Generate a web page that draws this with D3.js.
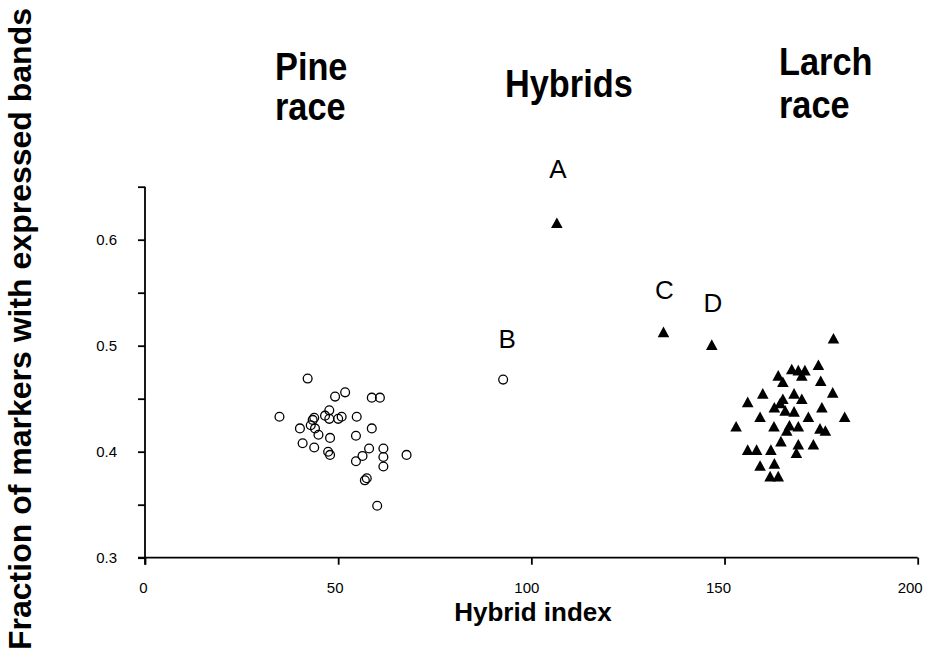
<!DOCTYPE html>
<html>
<head>
<meta charset="utf-8">
<script src="https://cdn.jsdelivr.net/npm/d3@7"></script>
<style>
  body { margin: 0; background: #fff; }
  svg { display: block; }
  .axis path, .axis line { stroke: #000; stroke-width: 1.8; }
  .axis text { font-family: "Liberation Sans", Arial, sans-serif; font-size: 15px; fill: #000; }
</style>
</head>
<body>
<div id="chart"></div>
<script>
// Pine race individuals (hybrid index, fraction of markers)
const pineX = [42.1, 49.2, 51.8, 34.8, 47.7, 46.6, 47.7, 50.0, 50.9, 43.8, 43.4, 42.9, 40.1, 44.0, 44.9,
               47.9, 40.8, 43.8, 47.4, 47.9, 58.7, 60.8, 54.8, 58.7, 54.6, 58.0, 61.7, 61.7, 61.7, 67.7,
               56.3, 54.6, 57.4, 56.9, 60.1];
const pineY = [0.469, 0.452, 0.456, 0.433, 0.439, 0.434, 0.431, 0.431, 0.433, 0.432, 0.430, 0.425, 0.422, 0.422, 0.416,
               0.413, 0.408, 0.404, 0.400, 0.397, 0.451, 0.451, 0.433, 0.422, 0.415, 0.403, 0.403, 0.395, 0.386, 0.397,
               0.396, 0.391, 0.375, 0.373, 0.349];

// Larch race individuals
const larchX = [178.2, 174.3, 167.4, 169.1, 170.8, 170.0, 163.9, 165.1, 174.9, 178.0, 159.9, 168.0, 170.0, 156.0,
                165.1, 164.4, 162.9, 175.2, 165.7, 168.0, 159.2, 171.7, 181.1, 153.0, 162.8, 166.8, 169.1, 166.1,
                174.7, 176.1, 164.6, 169.1, 173.0, 156.0, 158.3, 162.0, 168.6, 159.2, 162.9, 161.8, 163.9];
const larchY = [0.507, 0.482, 0.478, 0.477, 0.477, 0.472, 0.472, 0.466, 0.467, 0.456, 0.455, 0.455, 0.450, 0.447,
                0.450, 0.446, 0.442, 0.442, 0.439, 0.438, 0.433, 0.433, 0.433, 0.424, 0.424, 0.425, 0.424, 0.420,
                0.422, 0.420, 0.410, 0.407, 0.407, 0.402, 0.402, 0.402, 0.399, 0.387, 0.389, 0.377, 0.377];

// Hybrids, labelled A-D
const hybridLabels = ["A", "B", "C", "D"];
const hybridX = [106.6, 92.7, 134.2, 146.7];
const hybridY = [0.616, 0.468, 0.513, 0.501];
const hybridType = ["larch", "pine", "larch", "larch"];

const xTicks = [0, 50, 100, 150, 200];
const yTicks = [0.3, 0.35, 0.4, 0.45, 0.5, 0.55, 0.6, 0.65];

const width = 925, height = 656;

const svg = d3.select("#chart").append("svg")
    .attr("width", width)
    .attr("height", height);

const x = d3.scaleLinear().domain([0, 200]).range([145, 917.7]);
const y = d3.scaleLinear().domain([0.3, 0.65]).range([557.7, 186.7]);

// Axes
svg.append("g")
    .attr("class", "axis")
    .attr("transform", `translate(0,${y(0.3)})`)
    .call(d3.axisBottom(x).tickValues(xTicks).tickSize(7).tickSizeOuter(0).tickPadding(18))
    .call(g => g.select(".domain").attr("d", `M${x(0) - 7},0H${x(200)}`))
    .call(g => g.selectAll(".tick text").attr("dx", d => -2 - 0.03 * d));

svg.append("g")
    .attr("class", "axis")
    .attr("transform", `translate(${x(0)},0)`)
    .call(d3.axisLeft(y).tickValues(yTicks).tickSize(7).tickSizeOuter(0).tickPadding(21)
        .tickFormat(d => Math.round(d * 100) % 10 === 0 ? d3.format(".1f")(d) : ""))
    .call(g => g.select(".domain").attr("d", `M0,${y(0.65)}V${y(0.3) + 7}`));

// Triangle drawn around its box centre
const tri = "M0,-5.3L5.8,5.3L-5.8,5.3Z";

const pine = pineX.map((d, i) => ({x: d, y: pineY[i]}));
const larch = larchX.map((d, i) => ({x: d, y: larchY[i]}));
const hybrids = hybridX.map((d, i) => ({x: d, y: hybridY[i], label: hybridLabels[i], type: hybridType[i]}));

svg.append("g").selectAll("circle")
    .data(pine.concat(hybrids.filter(d => d.type === "pine")))
    .join("circle")
    .attr("cx", d => x(d.x))
    .attr("cy", d => y(d.y))
    .attr("r", 4.4)
    .attr("fill", "none")
    .attr("stroke", "#000")
    .attr("stroke-width", 1.3);

svg.append("g").selectAll("path")
    .data(larch.concat(hybrids.filter(d => d.type === "larch")))
    .join("path")
    .attr("d", tri)
    .attr("transform", d => `translate(${x(d.x)},${y(d.y)})`)
    .attr("fill", "#000");

// Hybrid labels
svg.append("g").selectAll("text")
    .data(hybrids)
    .join("text")
    .attr("x", d => x(d.x) + (d.label === "B" ? 4 : 1))
    .attr("y", d => y(d.y) - (d.label === "A" ? 45 : d.label === "B" ? 32 : 33))
    .attr("text-anchor", "middle")
    .attr("font-family", "Liberation Sans, Arial, sans-serif")
    .attr("font-size", 26)
    .text(d => d.label);

// Group titles (condensed bold look)
const titles = [
    {lines: ["Pine", "race"], x: 275, y: [80, 120]},
    {lines: ["Hybrids"], x: 505, y: [97]},
    {lines: ["Larch", "race"], x: 779, y: [75, 118]}
];
titles.forEach(t => {
    t.lines.forEach((line, i) => {
        svg.append("text")
            .attr("transform", `translate(${t.x},${t.y[i]}) scale(0.88,1)`)
            .attr("font-family", "Liberation Sans, Arial, sans-serif")
            .attr("font-weight", "bold")
            .attr("font-size", 39)
            .text(line);
    });
});

// Axis titles
svg.append("text")
    .attr("x", 533)
    .attr("y", 621)
    .attr("text-anchor", "middle")
    .attr("font-family", "Liberation Sans, Arial, sans-serif")
    .attr("font-weight", "bold")
    .attr("font-size", 26)
    .text("Hybrid index");

svg.append("text")
    .attr("transform", "translate(31,329) rotate(-90)")
    .attr("text-anchor", "middle")
    .attr("font-family", "Liberation Sans, Arial, sans-serif")
    .attr("font-weight", "bold")
    .attr("font-size", 32)
    .text("Fraction of markers with expressed bands");
</script>
</body>
</html>
